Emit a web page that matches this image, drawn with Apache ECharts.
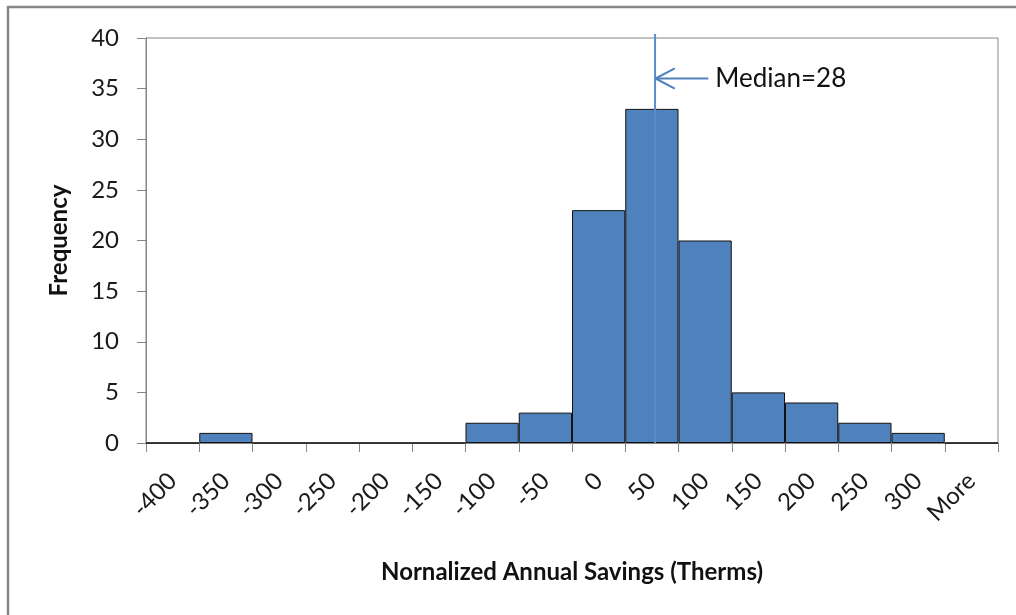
<!DOCTYPE html>
<html>
<head>
<meta charset="utf-8">
<script src="https://cdn.jsdelivr.net/npm/echarts@6/dist/echarts.min.js"></script>
<style>
html,body{margin:0;padding:0;background:#fff;}
#chart{width:1016px;height:615px;}
</style>
</head>
<body>
<div id="chart"></div>
<script>
// Data
const binLabels = ['-400','-350','-300','-250','-200','-150','-100','-50','0','50','100','150','200','250','300','More'];
const frequencies = [0,1,0,0,0,0,2,3,23,33,20,5,4,2,1,0];
const yTicks = {min:0, max:40, interval:5};
const medianValue = 28;
const medianText = 'Median=28';
const xTitle = 'Nornalized Annual Savings (Therms)';
const yTitle = 'Frequency';
// annotation arrow (value-axis units: savings, frequency)
const arrowY = 36;
const arrowShaftEnd = 78;
const arrowHeadLen = 18;
const arrowHeadHalf = 1;
const medianLineTop = 40.4;

const chart = echarts.init(document.getElementById('chart'));
const blue = '#4F81BD';
const gray = '#868686';
const font = 'Lato';

chart.setOption({
  animation:false,
  backgroundColor:'#fff',
  graphic:[{
    type:'rect', silent:true, z:-1,
    shape:{x:8,y:7,width:1040,height:640},
    style:{fill:'none',stroke:gray,lineWidth:2.5}
  }],
  grid:{left:146,right:18,top:38,bottom:172,show:true,borderColor:gray,borderWidth:1,backgroundColor:'transparent'},
  xAxis:[{
    type:'category', data:binLabels, boundaryGap:true,
    axisLine:{lineStyle:{color:gray,width:1}},
    axisTick:{show:true,length:9,lineStyle:{color:gray}},
    axisLabel:{interval:0,rotate:45,margin:34,color:'#1a1a1a',fontFamily:font,fontSize:24},
    name:xTitle, nameLocation:'middle', nameGap:117,
    nameTextStyle:{fontFamily:font,fontWeight:'bold',fontSize:24,color:'#111'}
  },{
    type:'value', min:-450, max:350, show:false
  }],
  yAxis:{
    type:'value', min:yTicks.min, max:yTicks.max, interval:yTicks.interval,
    axisLine:{show:true,onZero:false,lineStyle:{color:gray}},
    axisTick:{show:true,length:9,lineStyle:{color:gray}},
    splitLine:{show:false},
    axisLabel:{margin:27,color:'#1a1a1a',fontFamily:font,fontSize:24},
    name:yTitle, nameLocation:'middle', nameGap:75,
    nameTextStyle:{fontFamily:font,fontWeight:'bold',fontSize:24,color:'#111'}
  },
  series:[{
    type:'bar', data:frequencies, barCategoryGap:'0%', barGap:'0%',
    itemStyle:{color:blue,borderColor:'#111',borderWidth:1}
  },{
    type:'line', xAxisIndex:1, clip:false, symbol:'none', z:5,
    data:[[medianValue,0],[medianValue,medianLineTop]],
    lineStyle:{color:'#5A8CC8',width:2}
  },{
    type:'line', xAxisIndex:1, clip:false, symbol:'none', z:5,
    data:[[medianValue+0.5,arrowY],[arrowShaftEnd,arrowY]],
    lineStyle:{color:blue,width:2},
    label:{show:false},
    endLabel:{show:true,formatter:medianText,fontFamily:font,fontSize:26,color:'#111',distance:7}
  },{
    type:'line', xAxisIndex:1, clip:false, symbol:'none', z:5,
    data:[[medianValue+0.5+arrowHeadLen,arrowY+arrowHeadHalf],[medianValue+0.5,arrowY],[medianValue+0.5+arrowHeadLen,arrowY-arrowHeadHalf]],
    lineStyle:{color:blue,width:2}
  }]
});
</script>
</body>
</html>
